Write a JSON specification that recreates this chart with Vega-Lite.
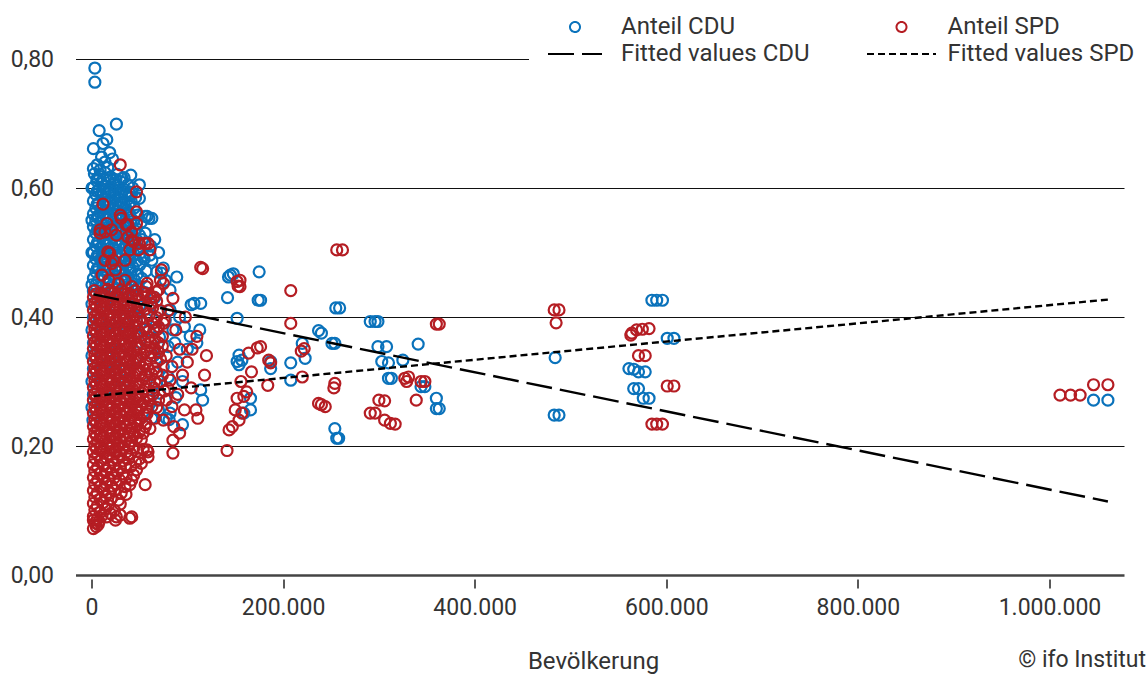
{
"$schema": "https://vega.github.io/schema/vega-lite/v6.json",
"width": 1048.5, "height": 516,
"autosize": {"type": "none"},
"padding": {"left": 75.5, "top": 59, "right": 22, "bottom": 100},
"config": {
 "locale": {"number": {"decimal": ",", "thousands": ".", "grouping": [3], "currency": ["", " €"]}},
 "font": "Roboto",
 "view": {"stroke": null},
 "axis": {"labelFont": "Roboto", "titleFont": "Roboto", "labelColor": "#333", "titleColor": "#333"}
},
"title": {"text": "© ifo Institut", "orient": "bottom", "anchor": "end", "frame": "group", "offset": -24, "dx": 22, "fontSize": 23, "fontWeight": "normal", "color": "#333", "font": "Roboto"},
"datasets": {
"fit": [
{"k":"FC","x":2000,"y":0.435},{"k":"FC","x":1061000,"y":0.114},
{"k":"FS","x":2000,"y":0.2775},{"k":"FS","x":1061000,"y":0.427}
],
"pts": [
{"k":"C","x":3500,"y":0.786},{"k":"C","x":3500,"y":0.764},{"k":"C","x":26000,"y":0.699},{"k":"C","x":8000,"y":0.689},{"k":"C","x":16000,"y":0.675},{"k":"C","x":12000,"y":0.669},{"k":"C","x":2000,"y":0.661},{"k":"C","x":10500,"y":0.648},{"k":"C","x":2000,"y":0.63},{"k":"C","x":19000,"y":0.655},{"k":"C","x":14000,"y":0.64},{"k":"C","x":6000,"y":0.636},{"k":"C","x":22000,"y":0.645},{"k":"C","x":9000,"y":0.628},{"k":"C","x":17000,"y":0.632},
{"k":"C","x":3000,"y":0.622},{"k":"C","x":8500,"y":0.618},{"k":"C","x":14000,"y":0.624},{"k":"C","x":20000,"y":0.617},{"k":"C","x":27000,"y":0.621},{"k":"C","x":34000,"y":0.616},{"k":"C","x":41000,"y":0.62},
{"k":"C","x":5500,"y":0.611},{"k":"C","x":11000,"y":0.607},{"k":"C","x":17000,"y":0.612},{"k":"C","x":23500,"y":0.606},{"k":"C","x":30500,"y":0.61},{"k":"C","x":38000,"y":0.605},
{"k":"C","x":2000,"y":0.601},{"k":"C","x":8000,"y":0.597},{"k":"C","x":14000,"y":0.602},{"k":"C","x":20500,"y":0.596},{"k":"C","x":27000,"y":0.6},{"k":"C","x":34000,"y":0.598},{"k":"C","x":43000,"y":0.6},{"k":"C","x":50000,"y":0.605},
{"k":"C","x":4500,"y":0.59},{"k":"C","x":11000,"y":0.587},{"k":"C","x":17000,"y":0.592},{"k":"C","x":24000,"y":0.586},{"k":"C","x":31000,"y":0.59},{"k":"C","x":38500,"y":0.588},{"k":"C","x":46000,"y":0.585},
{"k":"C","x":2000,"y":0.58},{"k":"C","x":7500,"y":0.576},{"k":"C","x":14000,"y":0.581},{"k":"C","x":20000,"y":0.577},{"k":"C","x":27000,"y":0.58},{"k":"C","x":34000,"y":0.576},{"k":"C","x":41500,"y":0.579},{"k":"C","x":50000,"y":0.584},
{"k":"C","x":4500,"y":0.569},{"k":"C","x":10000,"y":0.566},{"k":"C","x":16500,"y":0.571},{"k":"C","x":23000,"y":0.567},{"k":"C","x":30000,"y":0.57},{"k":"C","x":37000,"y":0.566},{"k":"C","x":44500,"y":0.569},
{"k":"C","x":2000,"y":0.56},{"k":"C","x":7000,"y":0.557},{"k":"C","x":13000,"y":0.561},{"k":"C","x":19500,"y":0.556},{"k":"C","x":26000,"y":0.559},{"k":"C","x":33000,"y":0.556},{"k":"C","x":40000,"y":0.56},{"k":"C","x":48000,"y":0.558},{"k":"C","x":56000,"y":0.556},
{"k":"C","x":4500,"y":0.55},{"k":"C","x":10500,"y":0.546},{"k":"C","x":16500,"y":0.551},{"k":"C","x":23000,"y":0.547},{"k":"C","x":29500,"y":0.55},{"k":"C","x":36500,"y":0.546},{"k":"C","x":44000,"y":0.549},{"k":"C","x":52000,"y":0.547},{"k":"C","x":60000,"y":0.553},
{"k":"C","x":2000,"y":0.54},{"k":"C","x":7500,"y":0.537},{"k":"C","x":13500,"y":0.541},{"k":"C","x":19500,"y":0.536},{"k":"C","x":26000,"y":0.539},{"k":"C","x":32500,"y":0.536},{"k":"C","x":39500,"y":0.54},{"k":"C","x":47000,"y":0.537},
{"k":"C","x":4500,"y":0.53},{"k":"C","x":10500,"y":0.526},{"k":"C","x":16500,"y":0.531},{"k":"C","x":22500,"y":0.527},{"k":"C","x":29000,"y":0.53},{"k":"C","x":35500,"y":0.526},{"k":"C","x":42500,"y":0.529},{"k":"C","x":50000,"y":0.527},
{"k":"C","x":2000,"y":0.52},{"k":"C","x":7500,"y":0.517},{"k":"C","x":13500,"y":0.521},{"k":"C","x":19500,"y":0.516},{"k":"C","x":25500,"y":0.519},{"k":"C","x":32000,"y":0.516},{"k":"C","x":38500,"y":0.52},{"k":"C","x":45500,"y":0.517},{"k":"C","x":53000,"y":0.52},
{"k":"C","x":4500,"y":0.51},{"k":"C","x":10500,"y":0.506},{"k":"C","x":16500,"y":0.511},{"k":"C","x":22500,"y":0.507},{"k":"C","x":28500,"y":0.51},{"k":"C","x":35000,"y":0.506},{"k":"C","x":41500,"y":0.509},{"k":"C","x":48500,"y":0.507},
{"k":"C","x":2000,"y":0.5},{"k":"C","x":7500,"y":0.497},{"k":"C","x":13500,"y":0.501},{"k":"C","x":19500,"y":0.496},{"k":"C","x":25500,"y":0.499},{"k":"C","x":31500,"y":0.496},{"k":"C","x":37500,"y":0.5},{"k":"C","x":44500,"y":0.497},{"k":"C","x":52000,"y":0.5},
{"k":"C","x":4500,"y":0.49},{"k":"C","x":10500,"y":0.486},{"k":"C","x":16500,"y":0.491},{"k":"C","x":22500,"y":0.487},{"k":"C","x":28500,"y":0.49},{"k":"C","x":34500,"y":0.486},{"k":"C","x":40500,"y":0.489},{"k":"C","x":47500,"y":0.487},{"k":"C","x":55000,"y":0.49},
{"k":"C","x":2000,"y":0.48},{"k":"C","x":7500,"y":0.477},{"k":"C","x":13500,"y":0.481},{"k":"C","x":19500,"y":0.476},{"k":"C","x":25500,"y":0.479},{"k":"C","x":31500,"y":0.476},{"k":"C","x":37500,"y":0.48},{"k":"C","x":43500,"y":0.477},{"k":"C","x":50500,"y":0.481},
{"k":"C","x":4500,"y":0.47},{"k":"C","x":10500,"y":0.466},{"k":"C","x":16500,"y":0.471},{"k":"C","x":22500,"y":0.467},{"k":"C","x":28500,"y":0.47},{"k":"C","x":34500,"y":0.466},{"k":"C","x":41000,"y":0.469},{"k":"C","x":48000,"y":0.467},{"k":"C","x":57000,"y":0.471},
{"k":"C","x":2000,"y":0.46},{"k":"C","x":7500,"y":0.457},{"k":"C","x":13500,"y":0.461},{"k":"C","x":19500,"y":0.456},{"k":"C","x":25500,"y":0.459},{"k":"C","x":31500,"y":0.456},{"k":"C","x":38000,"y":0.46},{"k":"C","x":45000,"y":0.457},{"k":"C","x":52500,"y":0.46},
{"k":"C","x":4500,"y":0.45},{"k":"C","x":10500,"y":0.446},{"k":"C","x":16500,"y":0.451},{"k":"C","x":22500,"y":0.447},{"k":"C","x":28500,"y":0.45},{"k":"C","x":35000,"y":0.446},{"k":"C","x":42000,"y":0.449},{"k":"C","x":49000,"y":0.447},
{"k":"C","x":6000,"y":0.615},{"k":"C","x":12500,"y":0.614},{"k":"C","x":19000,"y":0.616},{"k":"C","x":25500,"y":0.613},{"k":"C","x":32000,"y":0.615},{"k":"C","x":6000,"y":0.595},{"k":"C","x":12500,"y":0.594},{"k":"C","x":19000,"y":0.596},{"k":"C","x":25500,"y":0.593},{"k":"C","x":32000,"y":0.595},{"k":"C","x":39000,"y":0.594},
{"k":"C","x":6000,"y":0.575},{"k":"C","x":12500,"y":0.574},{"k":"C","x":19000,"y":0.576},{"k":"C","x":25500,"y":0.573},{"k":"C","x":32000,"y":0.575},{"k":"C","x":39000,"y":0.574},{"k":"C","x":6000,"y":0.555},{"k":"C","x":12500,"y":0.554},{"k":"C","x":19000,"y":0.556},{"k":"C","x":25500,"y":0.553},{"k":"C","x":32000,"y":0.555},{"k":"C","x":39000,"y":0.554},
{"k":"C","x":6000,"y":0.535},{"k":"C","x":12500,"y":0.534},{"k":"C","x":19000,"y":0.536},{"k":"C","x":25500,"y":0.533},{"k":"C","x":32000,"y":0.535},{"k":"C","x":39000,"y":0.534},{"k":"C","x":6000,"y":0.515},{"k":"C","x":12500,"y":0.514},{"k":"C","x":19000,"y":0.516},{"k":"C","x":25500,"y":0.513},{"k":"C","x":32000,"y":0.515},{"k":"C","x":39000,"y":0.514},
{"k":"C","x":6000,"y":0.495},{"k":"C","x":12500,"y":0.494},{"k":"C","x":19000,"y":0.496},{"k":"C","x":25500,"y":0.493},{"k":"C","x":32000,"y":0.495},{"k":"C","x":39000,"y":0.494},{"k":"C","x":6000,"y":0.475},{"k":"C","x":12500,"y":0.474},{"k":"C","x":19000,"y":0.476},{"k":"C","x":25500,"y":0.473},{"k":"C","x":32000,"y":0.475},{"k":"C","x":39000,"y":0.474},
{"k":"C","x":2000,"y":0.44},{"k":"C","x":9000,"y":0.437},{"k":"C","x":20000,"y":0.441},{"k":"C","x":32000,"y":0.436},{"k":"C","x":44000,"y":0.44},{"k":"C","x":56000,"y":0.438},{"k":"C","x":500,"y":0.42},{"k":"C","x":12000,"y":0.423},{"k":"C","x":25000,"y":0.418},{"k":"C","x":38000,"y":0.421},{"k":"C","x":50000,"y":0.417},{"k":"C","x":62000,"y":0.42},{"k":"C","x":2000,"y":0.4},{"k":"C","x":8000,"y":0.397},{"k":"C","x":18000,"y":0.402},{"k":"C","x":30000,"y":0.398},{"k":"C","x":45000,"y":0.401},{"k":"C","x":58000,"y":0.396},{"k":"C","x":500,"y":0.38},{"k":"C","x":14000,"y":0.378},{"k":"C","x":26000,"y":0.382},{"k":"C","x":40000,"y":0.377},{"k":"C","x":55000,"y":0.381},{"k":"C","x":2000,"y":0.36},{"k":"C","x":10000,"y":0.357},{"k":"C","x":22000,"y":0.362},{"k":"C","x":35000,"y":0.358},{"k":"C","x":50000,"y":0.361},{"k":"C","x":500,"y":0.34},{"k":"C","x":16000,"y":0.338},{"k":"C","x":30000,"y":0.342},{"k":"C","x":46000,"y":0.337},{"k":"C","x":2000,"y":0.32},{"k":"C","x":12000,"y":0.318},{"k":"C","x":25000,"y":0.322},{"k":"C","x":40000,"y":0.317},{"k":"C","x":500,"y":0.3},{"k":"C","x":20000,"y":0.298},{"k":"C","x":36000,"y":0.302},{"k":"C","x":2000,"y":0.28},{"k":"C","x":15000,"y":0.278},{"k":"C","x":500,"y":0.26},{"k":"C","x":10000,"y":0.258},{"k":"C","x":1500,"y":0.24},{"k":"C","x":500,"y":0.45},{"k":"C","x":500,"y":0.5},{"k":"C","x":500,"y":0.55},{"k":"C","x":500,"y":0.6},
{"k":"C","x":42000,"y":0.592},{"k":"C","x":58000,"y":0.556},{"k":"C","x":63000,"y":0.553},{"k":"C","x":54000,"y":0.494},{"k":"C","x":61000,"y":0.496},{"k":"C","x":63000,"y":0.488},{"k":"C","x":75000,"y":0.476},{"k":"C","x":73000,"y":0.468},{"k":"C","x":77000,"y":0.457},{"k":"C","x":82000,"y":0.442},{"k":"C","x":89000,"y":0.462},{"k":"C","x":82000,"y":0.411},{"k":"C","x":77000,"y":0.395},{"k":"C","x":71000,"y":0.369},{"k":"C","x":80000,"y":0.354},{"k":"C","x":75000,"y":0.323},{"k":"C","x":80000,"y":0.307},{"k":"C","x":68000,"y":0.297},{"k":"C","x":71000,"y":0.282},{"k":"C","x":61000,"y":0.271},{"k":"C","x":70000,"y":0.256},{"k":"C","x":82000,"y":0.251},{"k":"C","x":63000,"y":0.243},{"k":"C","x":78000,"y":0.243},{"k":"C","x":107000,"y":0.421},{"k":"C","x":114000,"y":0.421},{"k":"C","x":104000,"y":0.419},{"k":"C","x":97000,"y":0.385},{"k":"C","x":103000,"y":0.37},{"k":"C","x":110000,"y":0.36},{"k":"C","x":100000,"y":0.35},{"k":"C","x":113000,"y":0.38},{"k":"C","x":95000,"y":0.233},{"k":"C","x":81000,"y":0.241},{"k":"C","x":114000,"y":0.287},{"k":"C","x":116000,"y":0.271},{"k":"C","x":90000,"y":0.33},{"k":"C","x":95000,"y":0.3},{"k":"C","x":88000,"y":0.275},{"k":"C","x":85000,"y":0.38},{"k":"C","x":92000,"y":0.4},{"k":"C","x":66000,"y":0.43},{"k":"C","x":70000,"y":0.41},{"k":"C","x":87000,"y":0.36},{"k":"C","x":60000,"y":0.38},{"k":"C","x":65000,"y":0.34},{"k":"C","x":56000,"y":0.31},{"k":"C","x":66000,"y":0.52},{"k":"C","x":70000,"y":0.5},{"k":"C","x":68000,"y":0.47},{"k":"C","x":56000,"y":0.53},{"k":"C","x":62000,"y":0.51},
{"k":"C","x":145000,"y":0.465},{"k":"C","x":175000,"y":0.47},{"k":"C","x":142000,"y":0.43},{"k":"C","x":176500,"y":0.426},{"k":"C","x":174000,"y":0.426},{"k":"C","x":255000,"y":0.414},{"k":"C","x":259000,"y":0.414},{"k":"C","x":152000,"y":0.398},{"k":"C","x":291000,"y":0.393},{"k":"C","x":296000,"y":0.393},{"k":"C","x":299000,"y":0.393},{"k":"C","x":237000,"y":0.379},{"k":"C","x":240000,"y":0.375},{"k":"C","x":251000,"y":0.359},{"k":"C","x":254000,"y":0.359},{"k":"C","x":220000,"y":0.359},{"k":"C","x":299000,"y":0.354},{"k":"C","x":308000,"y":0.354},{"k":"C","x":341000,"y":0.358},{"k":"C","x":303000,"y":0.331},{"k":"C","x":310000,"y":0.329},{"k":"C","x":325000,"y":0.333},{"k":"C","x":154000,"y":0.341},{"k":"C","x":157000,"y":0.333},{"k":"C","x":152000,"y":0.331},{"k":"C","x":154000,"y":0.326},{"k":"C","x":187000,"y":0.331},{"k":"C","x":187000,"y":0.32},{"k":"C","x":208000,"y":0.329},{"k":"C","x":223000,"y":0.336},{"k":"C","x":313000,"y":0.305},{"k":"C","x":310000,"y":0.305},{"k":"C","x":208000,"y":0.302},{"k":"C","x":344000,"y":0.292},{"k":"C","x":348000,"y":0.292},{"k":"C","x":360000,"y":0.274},{"k":"C","x":360000,"y":0.258},{"k":"C","x":363000,"y":0.258},{"k":"C","x":254000,"y":0.227},{"k":"C","x":256000,"y":0.212},{"k":"C","x":258000,"y":0.212},{"k":"C","x":166000,"y":0.274},{"k":"C","x":166000,"y":0.256},{"k":"C","x":159000,"y":0.251},{"k":"C","x":143000,"y":0.462},{"k":"C","x":148000,"y":0.467},
{"k":"C","x":484000,"y":0.337},{"k":"C","x":483000,"y":0.248},{"k":"C","x":488000,"y":0.248},{"k":"C","x":585000,"y":0.426},{"k":"C","x":590000,"y":0.426},{"k":"C","x":596000,"y":0.426},{"k":"C","x":601000,"y":0.367},{"k":"C","x":608000,"y":0.367},{"k":"C","x":561000,"y":0.32},{"k":"C","x":566000,"y":0.319},{"k":"C","x":571000,"y":0.315},{"k":"C","x":578000,"y":0.315},{"k":"C","x":566000,"y":0.289},{"k":"C","x":571000,"y":0.289},{"k":"C","x":576000,"y":0.274},{"k":"C","x":582000,"y":0.274},{"k":"C","x":1046000,"y":0.271},{"k":"C","x":1061000,"y":0.271},
{"k":"S","x":30000,"y":0.636},{"k":"S","x":47000,"y":0.594},{"k":"S","x":47000,"y":0.563},{"k":"S","x":12000,"y":0.575},{"k":"S","x":30000,"y":0.558},{"k":"S","x":36000,"y":0.543},{"k":"S","x":42000,"y":0.532},{"k":"S","x":50000,"y":0.514},{"k":"S","x":59000,"y":0.514},{"k":"S","x":61000,"y":0.504},{"k":"S","x":9000,"y":0.535},{"k":"S","x":14000,"y":0.532},{"k":"S","x":19000,"y":0.499},{"k":"S","x":23000,"y":0.488},{"k":"S","x":47000,"y":0.545},{"k":"S","x":42000,"y":0.519},{"k":"S","x":49000,"y":0.504},{"k":"S","x":116000,"y":0.475},{"k":"S","x":73000,"y":0.473},{"k":"S","x":75000,"y":0.452},{"k":"S","x":85000,"y":0.429},{"k":"S","x":70000,"y":0.442},{"k":"S","x":155000,"y":0.457},{"k":"S","x":155000,"y":0.447},{"k":"S","x":58000,"y":0.452},{"k":"S","x":65000,"y":0.431},
{"k":"S","x":31000,"y":0.553},{"k":"S","x":38000,"y":0.543},{"k":"S","x":16000,"y":0.545},{"k":"S","x":9000,"y":0.53},{"k":"S","x":21000,"y":0.535},{"k":"S","x":26000,"y":0.527},{"k":"S","x":38000,"y":0.524},{"k":"S","x":44000,"y":0.517},{"k":"S","x":56000,"y":0.514},{"k":"S","x":40000,"y":0.504},{"k":"S","x":35000,"y":0.488},{"k":"S","x":17000,"y":0.501},{"k":"S","x":14000,"y":0.488},{"k":"S","x":21000,"y":0.483},{"k":"S","x":25000,"y":0.473},{"k":"S","x":11000,"y":0.465},{"k":"S","x":18000,"y":0.457},{"k":"S","x":28000,"y":0.452},{"k":"S","x":35000,"y":0.457},{"k":"S","x":42000,"y":0.447},{"k":"S","x":72000,"y":0.457},{"k":"S","x":57000,"y":0.447},{"k":"S","x":68000,"y":0.439},
{"k":"S","x":84000,"y":0.323},{"k":"S","x":82000,"y":0.302},{"k":"S","x":80000,"y":0.289},{"k":"S","x":78000,"y":0.271},{"k":"S","x":84000,"y":0.261},{"k":"S","x":70000,"y":0.271},{"k":"S","x":63000,"y":0.261},{"k":"S","x":57000,"y":0.235},{"k":"S","x":66000,"y":0.243},{"k":"S","x":75000,"y":0.24},{"k":"S","x":56000,"y":0.14},{"k":"S","x":59000,"y":0.191},{"k":"S","x":58000,"y":0.194},{"k":"S","x":54000,"y":0.22},{"k":"S","x":61000,"y":0.227},{"k":"S","x":40000,"y":0.088},{"k":"S","x":30000,"y":0.093},{"k":"S","x":25000,"y":0.085},{"k":"S","x":2000,"y":0.072},{"k":"S","x":5000,"y":0.075},{"k":"S","x":7000,"y":0.078},{"k":"S","x":2000,"y":0.085},{"k":"S","x":26000,"y":0.09},{"k":"S","x":42000,"y":0.09},{"k":"S","x":59000,"y":0.183},{"k":"S","x":52000,"y":0.173},{"k":"S","x":85000,"y":0.209},{"k":"S","x":85000,"y":0.189},{"k":"S","x":47000,"y":0.163},{"k":"S","x":42000,"y":0.147},{"k":"S","x":35000,"y":0.137},{"k":"S","x":31000,"y":0.127},{"k":"S","x":28000,"y":0.116},{"k":"S","x":109000,"y":0.256},{"k":"S","x":111000,"y":0.243},{"k":"S","x":97000,"y":0.256},{"k":"S","x":90000,"y":0.28},{"k":"S","x":95000,"y":0.31},{"k":"S","x":100000,"y":0.33},{"k":"S","x":105000,"y":0.35},{"k":"S","x":110000,"y":0.37},{"k":"S","x":92000,"y":0.35},{"k":"S","x":88000,"y":0.38},{"k":"S","x":98000,"y":0.4},{"k":"S","x":80000,"y":0.41},{"k":"S","x":75000,"y":0.39},{"k":"S","x":70000,"y":0.36},{"k":"S","x":68000,"y":0.33},{"k":"S","x":72000,"y":0.3},{"k":"S","x":65000,"y":0.29},{"k":"S","x":118000,"y":0.31},{"k":"S","x":120000,"y":0.34},{"k":"S","x":104000,"y":0.29},{"k":"S","x":86000,"y":0.23},{"k":"S","x":92000,"y":0.22},
{"k":"S","x":64000,"y":0.415},{"k":"S","x":68000,"y":0.38},{"k":"S","x":70000,"y":0.345},{"k":"S","x":66000,"y":0.32},{"k":"S","x":72000,"y":0.335},{"k":"S","x":62000,"y":0.36},{"k":"S","x":74000,"y":0.37},{"k":"S","x":66000,"y":0.3},{"k":"S","x":60000,"y":0.27},{"k":"S","x":58000,"y":0.25},
{"k":"S","x":62000,"y":0.43},{"k":"S","x":68000,"y":0.425},{"k":"S","x":72000,"y":0.41},{"k":"S","x":76000,"y":0.395},{"k":"S","x":64000,"y":0.39},{"k":"S","x":70000,"y":0.385},{"k":"S","x":66000,"y":0.365},{"k":"S","x":74000,"y":0.355},{"k":"S","x":78000,"y":0.34},{"k":"S","x":62000,"y":0.345},{"k":"S","x":68000,"y":0.315},{"k":"S","x":74000,"y":0.31},{"k":"S","x":76000,"y":0.285},{"k":"S","x":64000,"y":0.28},{"k":"S","x":68000,"y":0.26},{"k":"S","x":58000,"y":0.26},{"k":"S","x":56000,"y":0.23},{"k":"S","x":52000,"y":0.21},{"k":"S","x":54000,"y":0.195},{"k":"S","x":50000,"y":0.18},{"k":"S","x":46000,"y":0.175},{"k":"S","x":44000,"y":0.155},{"k":"S","x":40000,"y":0.14},{"k":"S","x":36000,"y":0.125},{"k":"S","x":30000,"y":0.11},{"k":"S","x":24000,"y":0.1},{"k":"S","x":20000,"y":0.095},{"k":"S","x":16000,"y":0.09},{"k":"S","x":8000,"y":0.083},
{"k":"S","x":3000,"y":0.441},{"k":"S","x":10000,"y":0.437},{"k":"S","x":17000,"y":0.443},{"k":"S","x":24000,"y":0.438},{"k":"S","x":31000,"y":0.442},{"k":"S","x":38000,"y":0.437},{"k":"S","x":46000,"y":0.441},{"k":"S","x":54000,"y":0.438},
{"k":"S","x":2000,"y":0.431},{"k":"S","x":6500,"y":0.427},{"k":"S","x":13000,"y":0.432},{"k":"S","x":20000,"y":0.428},{"k":"S","x":27000,"y":0.431},{"k":"S","x":34000,"y":0.427},{"k":"S","x":42000,"y":0.43},{"k":"S","x":50000,"y":0.428},{"k":"S","x":58000,"y":0.432},
{"k":"S","x":3500,"y":0.421},{"k":"S","x":9500,"y":0.417},{"k":"S","x":16000,"y":0.422},{"k":"S","x":23000,"y":0.418},{"k":"S","x":30000,"y":0.421},{"k":"S","x":37000,"y":0.417},{"k":"S","x":44000,"y":0.42},{"k":"S","x":52000,"y":0.418},{"k":"S","x":62000,"y":0.421},
{"k":"S","x":2000,"y":0.411},{"k":"S","x":6500,"y":0.407},{"k":"S","x":13000,"y":0.412},{"k":"S","x":19500,"y":0.408},{"k":"S","x":26000,"y":0.411},{"k":"S","x":33000,"y":0.407},{"k":"S","x":40000,"y":0.41},{"k":"S","x":48000,"y":0.408},{"k":"S","x":56000,"y":0.412},
{"k":"S","x":3500,"y":0.401},{"k":"S","x":9500,"y":0.397},{"k":"S","x":16000,"y":0.402},{"k":"S","x":22500,"y":0.398},{"k":"S","x":29000,"y":0.401},{"k":"S","x":36000,"y":0.397},{"k":"S","x":43000,"y":0.4},{"k":"S","x":51000,"y":0.398},{"k":"S","x":60000,"y":0.402},{"k":"S","x":68000,"y":0.399},
{"k":"S","x":2000,"y":0.391},{"k":"S","x":6500,"y":0.387},{"k":"S","x":12500,"y":0.392},{"k":"S","x":19000,"y":0.388},{"k":"S","x":25500,"y":0.391},{"k":"S","x":32000,"y":0.387},{"k":"S","x":39000,"y":0.39},{"k":"S","x":46000,"y":0.388},{"k":"S","x":54000,"y":0.392},
{"k":"S","x":3500,"y":0.381},{"k":"S","x":9500,"y":0.377},{"k":"S","x":15500,"y":0.382},{"k":"S","x":22000,"y":0.378},{"k":"S","x":28500,"y":0.381},{"k":"S","x":35000,"y":0.377},{"k":"S","x":42000,"y":0.38},{"k":"S","x":49000,"y":0.378},{"k":"S","x":57000,"y":0.382},{"k":"S","x":65000,"y":0.379},
{"k":"S","x":2000,"y":0.371},{"k":"S","x":6500,"y":0.367},{"k":"S","x":12500,"y":0.372},{"k":"S","x":19000,"y":0.368},{"k":"S","x":25500,"y":0.371},{"k":"S","x":32000,"y":0.367},{"k":"S","x":38500,"y":0.37},{"k":"S","x":45000,"y":0.368},{"k":"S","x":52000,"y":0.372},{"k":"S","x":60000,"y":0.369},
{"k":"S","x":3500,"y":0.361},{"k":"S","x":9500,"y":0.357},{"k":"S","x":15500,"y":0.362},{"k":"S","x":22000,"y":0.358},{"k":"S","x":28500,"y":0.361},{"k":"S","x":35000,"y":0.357},{"k":"S","x":41500,"y":0.36},{"k":"S","x":48000,"y":0.358},{"k":"S","x":56000,"y":0.362},
{"k":"S","x":2000,"y":0.351},{"k":"S","x":6500,"y":0.347},{"k":"S","x":12500,"y":0.352},{"k":"S","x":19000,"y":0.348},{"k":"S","x":25000,"y":0.351},{"k":"S","x":31500,"y":0.347},{"k":"S","x":38000,"y":0.35},{"k":"S","x":44500,"y":0.348},{"k":"S","x":51000,"y":0.352},{"k":"S","x":58000,"y":0.349},{"k":"S","x":66000,"y":0.351},
{"k":"S","x":3500,"y":0.341},{"k":"S","x":9500,"y":0.337},{"k":"S","x":15500,"y":0.342},{"k":"S","x":22000,"y":0.338},{"k":"S","x":28000,"y":0.341},{"k":"S","x":34500,"y":0.337},{"k":"S","x":41000,"y":0.34},{"k":"S","x":47500,"y":0.338},{"k":"S","x":54000,"y":0.342},{"k":"S","x":62000,"y":0.339},
{"k":"S","x":2000,"y":0.331},{"k":"S","x":6500,"y":0.327},{"k":"S","x":12500,"y":0.332},{"k":"S","x":18500,"y":0.328},{"k":"S","x":25000,"y":0.331},{"k":"S","x":31000,"y":0.327},{"k":"S","x":37500,"y":0.33},{"k":"S","x":44000,"y":0.328},{"k":"S","x":50500,"y":0.332},{"k":"S","x":57000,"y":0.329},
{"k":"S","x":3500,"y":0.321},{"k":"S","x":9500,"y":0.317},{"k":"S","x":15500,"y":0.322},{"k":"S","x":21500,"y":0.318},{"k":"S","x":28000,"y":0.321},{"k":"S","x":34000,"y":0.317},{"k":"S","x":40500,"y":0.32},{"k":"S","x":47000,"y":0.318},{"k":"S","x":53500,"y":0.322},{"k":"S","x":60000,"y":0.319},
{"k":"S","x":2000,"y":0.311},{"k":"S","x":6500,"y":0.307},{"k":"S","x":12500,"y":0.312},{"k":"S","x":18500,"y":0.308},{"k":"S","x":24500,"y":0.311},{"k":"S","x":31000,"y":0.307},{"k":"S","x":37000,"y":0.31},{"k":"S","x":43500,"y":0.308},{"k":"S","x":50000,"y":0.312},{"k":"S","x":56500,"y":0.309},{"k":"S","x":63000,"y":0.311},
{"k":"S","x":3500,"y":0.301},{"k":"S","x":9500,"y":0.297},{"k":"S","x":15500,"y":0.302},{"k":"S","x":21500,"y":0.298},{"k":"S","x":27500,"y":0.301},{"k":"S","x":34000,"y":0.297},{"k":"S","x":40000,"y":0.3},{"k":"S","x":46500,"y":0.298},{"k":"S","x":53000,"y":0.302},{"k":"S","x":60000,"y":0.299},
{"k":"S","x":2000,"y":0.291},{"k":"S","x":6500,"y":0.287},{"k":"S","x":12500,"y":0.292},{"k":"S","x":18500,"y":0.288},{"k":"S","x":24500,"y":0.291},{"k":"S","x":30500,"y":0.287},{"k":"S","x":37000,"y":0.29},{"k":"S","x":43000,"y":0.288},{"k":"S","x":49500,"y":0.292},{"k":"S","x":56000,"y":0.289},
{"k":"S","x":3500,"y":0.281},{"k":"S","x":9500,"y":0.277},{"k":"S","x":15500,"y":0.282},{"k":"S","x":21500,"y":0.278},{"k":"S","x":27500,"y":0.281},{"k":"S","x":33500,"y":0.277},{"k":"S","x":40000,"y":0.28},{"k":"S","x":46000,"y":0.278},{"k":"S","x":52500,"y":0.282},{"k":"S","x":59000,"y":0.279},
{"k":"S","x":2000,"y":0.271},{"k":"S","x":6500,"y":0.267},{"k":"S","x":12500,"y":0.272},{"k":"S","x":18500,"y":0.268},{"k":"S","x":24500,"y":0.271},{"k":"S","x":30500,"y":0.267},{"k":"S","x":36500,"y":0.27},{"k":"S","x":43000,"y":0.268},{"k":"S","x":49000,"y":0.272},{"k":"S","x":55000,"y":0.269},
{"k":"S","x":3500,"y":0.261},{"k":"S","x":9500,"y":0.257},{"k":"S","x":15500,"y":0.262},{"k":"S","x":21500,"y":0.258},{"k":"S","x":27500,"y":0.261},{"k":"S","x":33500,"y":0.257},{"k":"S","x":39500,"y":0.26},{"k":"S","x":46000,"y":0.258},{"k":"S","x":52000,"y":0.262},
{"k":"S","x":2000,"y":0.251},{"k":"S","x":6500,"y":0.247},{"k":"S","x":12500,"y":0.252},{"k":"S","x":18500,"y":0.248},{"k":"S","x":24500,"y":0.251},{"k":"S","x":30500,"y":0.247},{"k":"S","x":36500,"y":0.25},{"k":"S","x":42500,"y":0.248},{"k":"S","x":49000,"y":0.252},{"k":"S","x":55000,"y":0.249},
{"k":"S","x":3500,"y":0.241},{"k":"S","x":9500,"y":0.237},{"k":"S","x":15500,"y":0.242},{"k":"S","x":21500,"y":0.238},{"k":"S","x":27500,"y":0.241},{"k":"S","x":33500,"y":0.237},{"k":"S","x":39500,"y":0.24},{"k":"S","x":45500,"y":0.238},{"k":"S","x":51000,"y":0.242},
{"k":"S","x":2000,"y":0.231},{"k":"S","x":6500,"y":0.227},{"k":"S","x":12500,"y":0.232},{"k":"S","x":18500,"y":0.228},{"k":"S","x":24500,"y":0.231},{"k":"S","x":30500,"y":0.227},{"k":"S","x":36500,"y":0.23},{"k":"S","x":42500,"y":0.228},{"k":"S","x":48000,"y":0.232},
{"k":"S","x":3500,"y":0.221},{"k":"S","x":9500,"y":0.217},{"k":"S","x":15500,"y":0.222},{"k":"S","x":21500,"y":0.218},{"k":"S","x":27500,"y":0.221},{"k":"S","x":33500,"y":0.217},{"k":"S","x":39500,"y":0.22},{"k":"S","x":45000,"y":0.218},{"k":"S","x":50000,"y":0.222},
{"k":"S","x":2000,"y":0.211},{"k":"S","x":6500,"y":0.207},{"k":"S","x":12500,"y":0.212},{"k":"S","x":18500,"y":0.208},{"k":"S","x":24500,"y":0.211},{"k":"S","x":30500,"y":0.207},{"k":"S","x":36000,"y":0.21},{"k":"S","x":42000,"y":0.208},{"k":"S","x":47000,"y":0.212},
{"k":"S","x":3500,"y":0.201},{"k":"S","x":9500,"y":0.197},{"k":"S","x":15500,"y":0.202},{"k":"S","x":21500,"y":0.198},{"k":"S","x":27500,"y":0.201},{"k":"S","x":33000,"y":0.197},{"k":"S","x":39000,"y":0.2},{"k":"S","x":44500,"y":0.198},
{"k":"S","x":2000,"y":0.191},{"k":"S","x":6500,"y":0.187},{"k":"S","x":12500,"y":0.192},{"k":"S","x":18500,"y":0.188},{"k":"S","x":24500,"y":0.191},{"k":"S","x":30000,"y":0.187},{"k":"S","x":36000,"y":0.19},{"k":"S","x":41000,"y":0.188},{"k":"S","x":48000,"y":0.192},
{"k":"S","x":3500,"y":0.181},{"k":"S","x":9500,"y":0.177},{"k":"S","x":15500,"y":0.182},{"k":"S","x":21500,"y":0.178},{"k":"S","x":27000,"y":0.181},{"k":"S","x":33000,"y":0.177},{"k":"S","x":38500,"y":0.18},
{"k":"S","x":2000,"y":0.171},{"k":"S","x":6500,"y":0.167},{"k":"S","x":12500,"y":0.172},{"k":"S","x":18000,"y":0.168},{"k":"S","x":24000,"y":0.171},{"k":"S","x":30000,"y":0.167},{"k":"S","x":35500,"y":0.17},{"k":"S","x":41000,"y":0.168},
{"k":"S","x":3500,"y":0.161},{"k":"S","x":9500,"y":0.157},{"k":"S","x":15000,"y":0.162},{"k":"S","x":21000,"y":0.158},{"k":"S","x":27000,"y":0.161},{"k":"S","x":32500,"y":0.157},
{"k":"S","x":2000,"y":0.151},{"k":"S","x":6500,"y":0.147},{"k":"S","x":12000,"y":0.152},{"k":"S","x":18000,"y":0.148},{"k":"S","x":24000,"y":0.151},{"k":"S","x":29500,"y":0.147},{"k":"S","x":36000,"y":0.15},
{"k":"S","x":3500,"y":0.141},{"k":"S","x":9000,"y":0.137},{"k":"S","x":15000,"y":0.142},{"k":"S","x":21000,"y":0.138},{"k":"S","x":26500,"y":0.141},
{"k":"S","x":2000,"y":0.131},{"k":"S","x":6000,"y":0.127},{"k":"S","x":12000,"y":0.132},{"k":"S","x":18000,"y":0.128},{"k":"S","x":24000,"y":0.131},
{"k":"S","x":3500,"y":0.121},{"k":"S","x":9000,"y":0.117},{"k":"S","x":15000,"y":0.122},{"k":"S","x":20500,"y":0.118},
{"k":"S","x":2000,"y":0.111},{"k":"S","x":6000,"y":0.107},{"k":"S","x":12000,"y":0.112},{"k":"S","x":17500,"y":0.108},
{"k":"S","x":3500,"y":0.101},{"k":"S","x":9000,"y":0.097},{"k":"S","x":14500,"y":0.102},
{"k":"S","x":2000,"y":0.091},{"k":"S","x":6000,"y":0.087},{"k":"S","x":11000,"y":0.092},{"k":"S","x":4000,"y":0.081},
{"k":"S","x":5000,"y":0.436},{"k":"S","x":12000,"y":0.435},{"k":"S","x":19000,"y":0.437},{"k":"S","x":26000,"y":0.434},{"k":"S","x":33000,"y":0.436},{"k":"S","x":40000,"y":0.435},{"k":"S","x":47000,"y":0.434},
{"k":"S","x":5000,"y":0.416},{"k":"S","x":12000,"y":0.415},{"k":"S","x":19000,"y":0.417},{"k":"S","x":26000,"y":0.414},{"k":"S","x":33000,"y":0.416},{"k":"S","x":40000,"y":0.415},{"k":"S","x":47000,"y":0.414},
{"k":"S","x":5000,"y":0.396},{"k":"S","x":12000,"y":0.395},{"k":"S","x":19000,"y":0.397},{"k":"S","x":26000,"y":0.394},{"k":"S","x":33000,"y":0.396},{"k":"S","x":40000,"y":0.395},{"k":"S","x":47000,"y":0.394},
{"k":"S","x":5000,"y":0.376},{"k":"S","x":12000,"y":0.375},{"k":"S","x":19000,"y":0.377},{"k":"S","x":26000,"y":0.374},{"k":"S","x":33000,"y":0.376},{"k":"S","x":40000,"y":0.375},{"k":"S","x":47000,"y":0.374},
{"k":"S","x":5000,"y":0.356},{"k":"S","x":12000,"y":0.355},{"k":"S","x":19000,"y":0.357},{"k":"S","x":26000,"y":0.354},{"k":"S","x":33000,"y":0.356},{"k":"S","x":40000,"y":0.355},{"k":"S","x":47000,"y":0.354},
{"k":"S","x":5000,"y":0.336},{"k":"S","x":12000,"y":0.335},{"k":"S","x":19000,"y":0.337},{"k":"S","x":26000,"y":0.334},{"k":"S","x":33000,"y":0.336},{"k":"S","x":40000,"y":0.335},{"k":"S","x":47000,"y":0.334},
{"k":"S","x":5000,"y":0.316},{"k":"S","x":12000,"y":0.315},{"k":"S","x":19000,"y":0.317},{"k":"S","x":26000,"y":0.314},{"k":"S","x":33000,"y":0.316},{"k":"S","x":40000,"y":0.315},{"k":"S","x":47000,"y":0.314},
{"k":"S","x":5000,"y":0.296},{"k":"S","x":12000,"y":0.295},{"k":"S","x":19000,"y":0.297},{"k":"S","x":26000,"y":0.294},{"k":"S","x":33000,"y":0.296},{"k":"S","x":40000,"y":0.295},{"k":"S","x":47000,"y":0.294},
{"k":"S","x":5000,"y":0.276},{"k":"S","x":12000,"y":0.275},{"k":"S","x":19000,"y":0.277},{"k":"S","x":26000,"y":0.274},{"k":"S","x":33000,"y":0.276},{"k":"S","x":40000,"y":0.275},{"k":"S","x":47000,"y":0.274},
{"k":"S","x":5000,"y":0.256},{"k":"S","x":12000,"y":0.255},{"k":"S","x":19000,"y":0.257},{"k":"S","x":26000,"y":0.254},{"k":"S","x":33000,"y":0.256},{"k":"S","x":40000,"y":0.255},{"k":"S","x":47000,"y":0.254},
{"k":"S","x":5000,"y":0.236},{"k":"S","x":12000,"y":0.235},{"k":"S","x":19000,"y":0.237},{"k":"S","x":26000,"y":0.234},{"k":"S","x":33000,"y":0.236},{"k":"S","x":40000,"y":0.235},
{"k":"S","x":5000,"y":0.216},{"k":"S","x":12000,"y":0.215},{"k":"S","x":19000,"y":0.217},{"k":"S","x":26000,"y":0.214},{"k":"S","x":33000,"y":0.216},{"k":"S","x":40000,"y":0.215},
{"k":"S","x":5000,"y":0.196},{"k":"S","x":12000,"y":0.195},{"k":"S","x":19000,"y":0.197},{"k":"S","x":26000,"y":0.194},{"k":"S","x":33000,"y":0.196},
{"k":"S","x":256000,"y":0.504},{"k":"S","x":262000,"y":0.504},{"k":"S","x":114000,"y":0.477},{"k":"S","x":152000,"y":0.455},{"k":"S","x":153000,"y":0.448},{"k":"S","x":208000,"y":0.441},{"k":"S","x":208000,"y":0.39},{"k":"S","x":360000,"y":0.389},{"k":"S","x":363000,"y":0.389},{"k":"S","x":176500,"y":0.354},{"k":"S","x":173000,"y":0.352},{"k":"S","x":164000,"y":0.344},{"k":"S","x":187000,"y":0.329},{"k":"S","x":185000,"y":0.333},{"k":"S","x":219000,"y":0.347},{"k":"S","x":222000,"y":0.351},{"k":"S","x":167000,"y":0.315},{"k":"S","x":156000,"y":0.3},{"k":"S","x":184000,"y":0.294},{"k":"S","x":220000,"y":0.307},{"k":"S","x":254000,"y":0.297},{"k":"S","x":253000,"y":0.29},{"k":"S","x":237000,"y":0.266},{"k":"S","x":240000,"y":0.264},{"k":"S","x":244000,"y":0.261},{"k":"S","x":152000,"y":0.274},{"k":"S","x":150000,"y":0.256},{"k":"S","x":143600,"y":0.225},{"k":"S","x":141500,"y":0.193},{"k":"S","x":162000,"y":0.284},{"k":"S","x":159000,"y":0.277},{"k":"S","x":157000,"y":0.251},{"k":"S","x":154000,"y":0.24},{"k":"S","x":147000,"y":0.23},{"k":"S","x":300000,"y":0.271},{"k":"S","x":306000,"y":0.27},{"k":"S","x":291000,"y":0.251},{"k":"S","x":296000,"y":0.251},{"k":"S","x":306000,"y":0.24},{"k":"S","x":312000,"y":0.235},{"k":"S","x":317000,"y":0.234},{"k":"S","x":327000,"y":0.305},{"k":"S","x":331000,"y":0.307},{"k":"S","x":329000,"y":0.3},{"k":"S","x":344000,"y":0.3},{"k":"S","x":348000,"y":0.3},{"k":"S","x":339000,"y":0.271},
{"k":"S","x":483000,"y":0.411},{"k":"S","x":488000,"y":0.411},{"k":"S","x":485000,"y":0.391},{"k":"S","x":564000,"y":0.375},{"k":"S","x":569000,"y":0.38},{"k":"S","x":575000,"y":0.381},{"k":"S","x":582000,"y":0.382},{"k":"S","x":563000,"y":0.372},{"k":"S","x":571000,"y":0.34},{"k":"S","x":578000,"y":0.34},{"k":"S","x":601000,"y":0.293},{"k":"S","x":608000,"y":0.293},{"k":"S","x":585000,"y":0.234},{"k":"S","x":590000,"y":0.234},{"k":"S","x":596000,"y":0.234},{"k":"S","x":1011000,"y":0.279},{"k":"S","x":1022000,"y":0.279},{"k":"S","x":1032000,"y":0.279},{"k":"S","x":1046000,"y":0.295},{"k":"S","x":1061000,"y":0.295}
]
},
"layer": [
{
 "data": {"name": "pts"},
 "mark": {"type": "point", "filled": false, "size": 121, "strokeWidth": 2.2, "opacity": 1},
 "encoding": {
  "x": {"field": "x", "type": "quantitative",
   "scale": {"domain": [-16700, 1077800], "nice": false, "zero": false},
   "axis": {"values": [0, 200000, 400000, 600000, 800000, 1000000], "format": ",d", "title": "Bevölkerung", "grid": false, "domain": false, "ticks": true, "tickSize": 9, "tickColor": "#222", "tickWidth": 1.5, "offset": 4, "labelFontSize": 23, "labelPadding": 8, "labelFlush": false, "titleFontSize": 24, "titleFontWeight": "normal", "titleX": 517.5, "titleY": 70, "titleBaseline": "top", "titleAlign": "center"}},
  "y": {"field": "y", "type": "quantitative",
   "scale": {"domain": [0, 0.8], "nice": false},
   "axis": {"values": [0, 0.2, 0.4, 0.6, 0.8], "format": ".2f", "title": null, "grid": true,
    "gridColor": {"condition": {"test": "datum.value === 0", "value": "#444"}, "value": "#111"},
    "gridWidth": {"condition": {"test": "datum.value === 0", "value": 2.5}, "value": 1.2},
    "domain": false, "ticks": false, "labelPadding": 22, "labelFontSize": 23}},
  "color": {"field": "k", "type": "nominal",
   "scale": {"domain": ["C", "S", "FC", "FS"], "range": ["#0a72bb", "#b51d23", "#000000", "#000000"]},
   "legend": {"title": null, "orient": "none", "legendX": 453.5, "legendY": -49.5, "direction": "horizontal", "columns": 2, "padding": 4, "fillColor": "white", "labelFontSize": 24, "labelLimit": 400, "labelColor": "#333", "labelFont": "Roboto", "symbolSize": 100, "symbolStrokeWidth": 2, "symbolOffset": 30, "labelOffset": 34, "columnPadding": 49.5, "rowPadding": 0, "clipHeight": 27,
    "labelExpr": "datum.label === 'C' ? 'Anteil CDU' : datum.label === 'S' ? 'Anteil SPD' : datum.label === 'FC' ? 'Fitted values CDU' : 'Fitted values SPD'"}},
  "shape": {"field": "k", "type": "nominal",
   "scale": {"domain": ["C", "S", "FC", "FS"], "range": ["circle", "circle", "M-5.4,0L5.4,0", "M-6.9,0L6.9,0"]}}
 }
},
{
 "data": {"name": "fit"},
 "mark": {"type": "line", "strokeWidth": 2.4},
 "encoding": {
  "x": {"field": "x", "type": "quantitative"},
  "y": {"field": "y", "type": "quantitative"},
  "color": {"field": "k", "type": "nominal"},
  "strokeDash": {"field": "k", "type": "nominal", "scale": {"domain": ["C", "S", "FC", "FS"], "range": [[1, 0], [1, 0], [26, 8], [7, 4]]}}
 }
}
]
}
